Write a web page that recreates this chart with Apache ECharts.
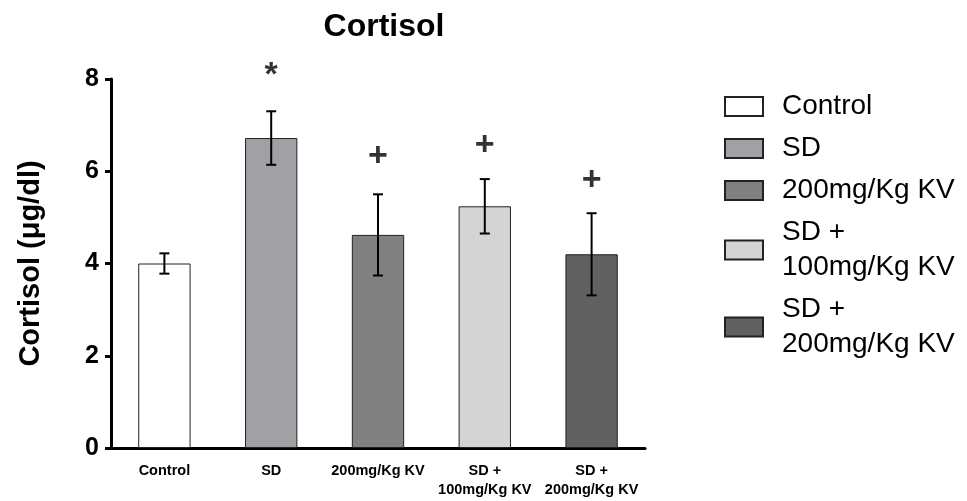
<!DOCTYPE html>
<html>
<head>
<meta charset="utf-8">
<script src="https://cdn.jsdelivr.net/npm/echarts@6/dist/echarts.min.js"></script>
<style>html,body{margin:0;padding:0;background:#fff;}#c{width:967px;height:501px;}</style>
</head>
<body>
<div id="c"></div>
<script>
var categories = ['Control', 'SD', '200mg/Kg KV', 'SD +\n100mg/Kg KV', 'SD +\n200mg/Kg KV'];
var means = [4.0, 6.72, 4.62, 5.24, 4.2];
var errors = [0.22, 0.58, 0.88, 0.59, 0.89];
var markers = ['', '*', '+', '+', '+'];
var markerY = [null, 8.07, 6.31, 6.56, 5.80];
var yTicks = [0, 2, 4, 6, 8];
var colors = ['#ffffff', '#a1a1a5', '#808080', '#d4d4d4', '#616161'];

var FONT = '"Liberation Sans", Arial, sans-serif';
var chart = echarts.init(document.getElementById('c'));

var series = categories.map(function (name, i) {
  return {
    name: name,
    type: 'bar',
    stack: 'all',
    barWidth: '49%',
    data: categories.map(function (c, j) { return j === i ? means[i] : '-'; }),
    itemStyle: { color: colors[i], borderColor: '#222', borderWidth: 1 },
    emphasis: { disabled: true },
    z: 2
  };
});

series.push({
  type: 'custom',
  name: 'err',
  z: 5,
  data: categories.map(function (c, i) { return [i, means[i] - errors[i], means[i] + errors[i]]; }),
  renderItem: function (params, api) {
    var lo = api.coord([api.value(0), api.value(1)]);
    var hi = api.coord([api.value(0), api.value(2)]);
    var hw = 5;
    var st = { stroke: '#000', lineWidth: 2 };
    return {
      type: 'group',
      children: [
        { type: 'line', shape: { x1: hi[0], y1: hi[1], x2: lo[0], y2: lo[1] }, style: st },
        { type: 'line', shape: { x1: hi[0] - hw, y1: hi[1], x2: hi[0] + hw, y2: hi[1] }, style: st },
        { type: 'line', shape: { x1: lo[0] - hw, y1: lo[1], x2: lo[0] + hw, y2: lo[1] }, style: st }
      ]
    };
  }
});

series.push({
  type: 'scatter',
  name: 'marks',
  symbolSize: 0,
  clip: false,
  z: 6,
  data: categories.map(function (c, i) { return markerY[i] === null ? null : { value: [i, markerY[i]], mk: markers[i] }; }).filter(function (d) { return d; }),
  label: {
    show: true,
    position: 'inside',
    formatter: function (p) { return p.data.mk; },
    fontSize: 34,
    fontWeight: 'bold',
    color: '#000',
    fontFamily: FONT
  }
});

chart.setOption({
  animation: false,
  backgroundColor: '#fff',
  title: {
    text: 'Cortisol',
    left: 379,
    textAlign: 'center',
    top: 6,
    textStyle: { fontSize: 32, fontWeight: 'bold', color: '#000', fontFamily: FONT }
  },
  legend: {
    data: categories,
    orient: 'vertical',
    left: 724,
    top: 89,
    padding: 0,
    itemWidth: 38,
    itemHeight: 19,
    itemGap: 7,
    icon: 'rect',
    selectedMode: false,
    textStyle: { fontSize: 28, lineHeight: 35, color: '#000', fontFamily: FONT, padding: [0, 0, 0, 14] }
  },
  grid: { left: 111, right: 322, top: 79, bottom: 53 },
  xAxis: {
    type: 'category',
    data: categories,
    axisLine: { lineStyle: { color: '#000', width: 3 } },
    axisTick: { alignWithLabel: true, length: 9, lineStyle: { color: '#000', width: 3 } },
    axisLabel: { interval: 0, fontSize: 14.5, fontWeight: 'bold', lineHeight: 19, margin: 13, color: '#000', fontFamily: FONT }
  },
  yAxis: {
    type: 'value',
    min: 0,
    max: 8,
    interval: 2,
    name: 'Cortisol (\u03bcg/dl)',
    nameLocation: 'middle',
    nameGap: 66,
    nameTextStyle: { fontSize: 29, fontWeight: 'bold', color: '#000', fontFamily: FONT },
    axisLine: { show: true, lineStyle: { color: '#000', width: 3 } },
    axisTick: { show: true, length: 6, lineStyle: { color: '#000', width: 3 } },
    axisLabel: { fontSize: 25, fontWeight: 'bold', margin: 12, color: '#000', fontFamily: FONT,
      formatter: function (v) { return yTicks.indexOf(v) >= 0 ? String(v) : ''; } },
    splitLine: { show: false }
  },
  series: series
});
</script>
</body>
</html>
